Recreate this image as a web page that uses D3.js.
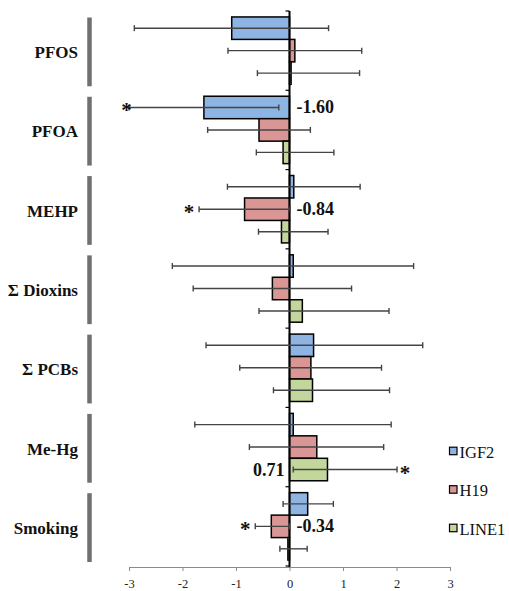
<!DOCTYPE html>
<html>
<head>
<meta charset="utf-8">
<script src="https://cdn.jsdelivr.net/npm/d3@7/dist/d3.min.js"></script>
<style>
  html, body { margin: 0; padding: 0; background: #fff; }
  svg { display: block; }
</style>
</head>
<body>
<svg id="chart" width="509" height="591"></svg>
<script>
const categories = ["PFOS", "PFOA", "MEHP", "Σ Dioxins", "Σ PCBs", "Me-Hg", "Smoking"];
const series = ["IGF2", "H19", "LINE1"];
const colors = ["#8EB4E3", "#D99694", "#C3D69B"];

const igf2Values = [-1.08, -1.60, 0.08, 0.07, 0.45, 0.07, 0.34];
const h19Values = [0.10, -0.57, -0.84, -0.32, 0.40, 0.51, -0.34];
const line1Values = [0.03, -0.12, -0.15, 0.24, 0.43, 0.71, -0.03];

const igf2Low = [-2.90, -3.00, -1.16, -2.19, -1.56, -1.77, -0.12];
const igf2High = [0.73, -0.20, 1.32, 2.32, 2.49, 1.90, 0.82];
const h19Low = [-1.15, -1.53, -1.69, -1.80, -0.93, -0.75, -0.64];
const h19High = [1.35, 0.39, 0.01, 1.16, 1.72, 1.76, 0.00];
const line1Low = [-0.60, -0.62, -0.58, -0.57, -0.30, 0.07, -0.18];
const line1High = [1.31, 0.83, 0.72, 1.86, 1.87, 2.01, 0.33];

const xTicks = [-3, -2, -1, 0, 1, 2, 3];

// highlighted estimates (label + significance star)
const highlights = [
  { cat: "PFOA", ser: "IGF2", label: "-1.60" },
  { cat: "MEHP", ser: "H19", label: "-0.84" },
  { cat: "Me-Hg", ser: "LINE1", label: "0.71" },
  { cat: "Smoking", ser: "H19", label: "-0.34" }
];

const FONT = "Liberation Serif";

const valuesBySeries = [igf2Values, h19Values, line1Values];
const lowBySeries = [igf2Low, h19Low, line1Low];
const highBySeries = [igf2High, h19High, line1High];

const data = [];
categories.forEach((c, i) => {
  series.forEach((s, j) => {
    data.push({ cat: c, ser: s, si: j, value: valuesBySeries[j][i], low: lowBySeries[j][i], high: highBySeries[j][i] });
  });
});

const svg = d3.select("#chart");

const x = d3.scaleLinear().domain([-3, 3]).range([129, 450]);
const y0 = d3.scaleBand().domain(categories).range([11, 566]).padding(0);
const bw = y0.bandwidth();
const y1 = d3.scaleBand().domain(series).range([bw * 0.075, bw * 0.925]).padding(0);

// x axis
const xAxis = svg.append("g")
  .attr("transform", "translate(0,567)")
  .call(d3.axisBottom(x).tickValues(xTicks).tickSize(4).tickPadding(8).tickFormat(d3.format("d")));
xAxis.attr("font-family", FONT).attr("font-size", 12.5);
xAxis.select(".domain").attr("stroke", "#8a8a8a").attr("stroke-width", 1);
xAxis.selectAll(".tick line").attr("stroke", "#8a8a8a");
xAxis.selectAll(".tick text").attr("font-size", 12.5).attr("fill", "#222")
  .attr("font-family", FONT)
  .text(d => d < 0 ? "-" + Math.abs(d) : d);

// gray separators for categories
svg.append("g").selectAll("line").data(categories).join("line")
  .attr("x1", 89.5).attr("x2", 89.5)
  .attr("y1", d => y0(d) + 6.5)
  .attr("y2", d => y0(d) + bw - 4)
  .attr("stroke", "#707070").attr("stroke-width", 4.5);

// category labels
svg.append("g").selectAll("text").data(categories).join("text")
  .attr("x", 78)
  .attr("y", d => y0(d) + bw / 2 + 7.5)
  .attr("text-anchor", "end")
  .attr("font-family", FONT)
  .attr("font-weight", "bold")
  .attr("font-size", 17)
  .attr("fill", "#111")
  .text(d => d);

// bars
svg.append("g").selectAll("rect").data(data).join("rect")
  .attr("x", d => x(Math.min(0, d.value)))
  .attr("width", d => Math.abs(x(d.value) - x(0)))
  .attr("y", d => y0(d.cat) + y1(d.ser))
  .attr("height", y1.bandwidth())
  .attr("fill", d => colors[d.si])
  .attr("stroke", "#000")
  .attr("stroke-width", 1.5);

// zero axis
svg.append("line")
  .attr("x1", x(0)).attr("x2", x(0))
  .attr("y1", 11).attr("y2", 567)
  .attr("stroke", "#000").attr("stroke-width", 2);
const boundaries = categories.map(c => y0(c)).concat([566]);
svg.append("g").selectAll("line").data(boundaries).join("line")
  .attr("x1", x(0) - 4).attr("x2", x(0))
  .attr("y1", d => d).attr("y2", d => d)
  .attr("stroke", "#000").attr("stroke-width", 1.2);

// error bars
const eb = svg.append("g").attr("stroke", "#444").attr("stroke-width", 1.4);
const cy = d => y0(d.cat) + y1(d.ser) + y1.bandwidth() / 2;
eb.selectAll("line.main").data(data).join("line").attr("class", "main")
  .attr("x1", d => x(d.low)).attr("x2", d => x(d.high))
  .attr("y1", cy).attr("y2", cy);
eb.selectAll("line.capL").data(data).join("line").attr("class", "capL")
  .attr("x1", d => x(d.low)).attr("x2", d => x(d.low))
  .attr("y1", d => cy(d) - 3).attr("y2", d => cy(d) + 3);
eb.selectAll("line.capH").data(data).join("line").attr("class", "capH")
  .attr("x1", d => x(d.high)).attr("x2", d => x(d.high))
  .attr("y1", d => cy(d) - 3).attr("y2", d => cy(d) + 3);

// highlight labels and stars
const hl = highlights.map(h => {
  const d = data.find(e => e.cat === h.cat && e.ser === h.ser);
  return Object.assign({}, d, { label: h.label });
});
svg.append("g").selectAll("text").data(hl).join("text")
  .attr("x", d => d.value < 0 ? x(0) + 7 : x(0) - 5)
  .attr("y", d => cy(d) + 6)
  .attr("text-anchor", d => d.value < 0 ? "start" : "end")
  .attr("font-family", FONT)
  .attr("font-weight", "bold")
  .attr("font-size", 18)
  .attr("fill", "#111")
  .text(d => d.label);
const [xMin] = x.range();
svg.append("g").selectAll("text").data(hl).join("text")
  .attr("x", d => d.value < 0 ? Math.max(x(d.low) - 10, xMin - 2.5) : x(d.high) + 8)
  .attr("y", d => cy(d) + 10)
  .attr("text-anchor", "middle")
  .attr("font-family", FONT)
  .attr("font-weight", "bold")
  .attr("font-size", 21)
  .attr("fill", "#111")
  .text("*");

// legend
const legend = svg.append("g").selectAll("g").data(series).join("g")
  .attr("transform", (d, i) => `translate(449.5, ${451 + i * 38.5})`);
legend.append("rect")
  .attr("x", 0).attr("y", -3.8).attr("width", 7.5).attr("height", 7.5)
  .attr("fill", (d, i) => colors[i]).attr("stroke", "#000").attr("stroke-width", 1.2);
legend.append("text")
  .attr("x", 10).attr("y", 6.5)
  .attr("font-family", FONT)
  .attr("font-size", 16.5).attr("fill", "#111")
  .text(d => d);
</script>
</body>
</html>
